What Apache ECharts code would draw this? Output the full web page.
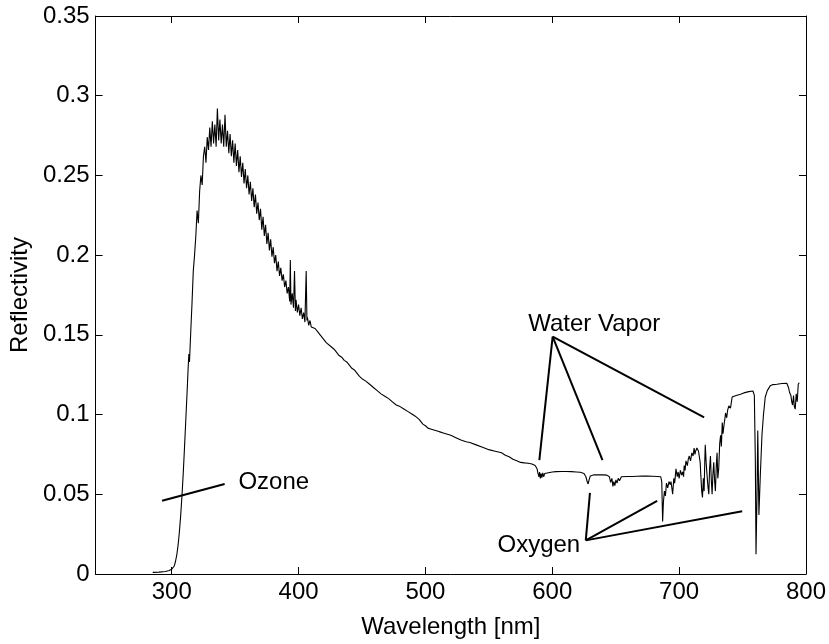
<!DOCTYPE html>
<html><head><meta charset="utf-8">
<script src="https://cdn.jsdelivr.net/npm/echarts@6/dist/echarts.min.js"></script>
<style>html,body{margin:0;padding:0;background:#fff}#c{width:829px;height:644px}</style>
</head><body><div id="c"></div>
<script>
// ---- data (wavelength nm, reflectivity) ----
const xTickValues = [300, 400, 500, 600, 700, 800];
const ozoneEdge = [[285,0.001],[290,0.0012],[295,0.0016],[298,0.0022],[300,0.003],[302,0.005],[303,0.008],[304,0.012],[305,0.018],[306,0.026],[307,0.036],[308,0.048],[309,0.062],[310,0.078],[311,0.095],[312,0.112],[313,0.13],[313.5,0.138],[314,0.133],[315,0.152],[316,0.17],[317,0.19],[318,0.2],[319,0.212],[320,0.228],[321,0.22],[322,0.24]];
const uvPeak = [[323,0.25],[324,0.244],[325,0.262],[326,0.268],[327,0.258],[328,0.274],[329,0.266],[330,0.28],[331,0.268],[332,0.284],[333,0.27],[334,0.282],[335,0.268],[336,0.292],[337,0.272],[338,0.285],[339,0.27],[340,0.282],[341,0.268],[342,0.288],[343,0.268],[344,0.278],[345,0.264],[346,0.276],[347,0.262],[348,0.272],[349,0.258],[350,0.27],[351,0.256],[352,0.266],[353,0.252],[354,0.262],[355,0.249],[356,0.258],[357,0.245],[358,0.254],[359,0.242],[360,0.25],[361,0.238],[362,0.246],[363,0.234],[364,0.242],[365,0.23],[366,0.238],[367,0.226],[368,0.233],[369,0.222],[370,0.229],[371,0.216],[372,0.224],[373,0.212],[374,0.219],[375,0.207],[376,0.214],[377,0.203],[378,0.21],[379,0.199],[380,0.205],[381,0.195],[382,0.2],[383,0.19],[384,0.196],[385,0.187],[386,0.192],[387,0.184],[388,0.188],[389,0.18],[390,0.184],[391,0.176],[392,0.18],[393,0.171],[393.5,0.197],[394,0.169],[395,0.176],[396,0.167],[396.8,0.19],[397.5,0.165],[398,0.172],[399,0.164],[400,0.169],[401,0.162],[402,0.167],[403,0.16],[404,0.164],[405,0.158],[406,0.19],[406.6,0.159],[407,0.161],[408,0.156],[409,0.159],[410,0.155]];
const visible = [[411,0.156],[413,0.154],[415,0.152],[417,0.15],[419,0.148],[420,0.147],[422,0.145],[423,0.146],[425,0.143],[428,0.141],[430,0.139],[431,0.1395],[432,0.137],[434,0.136],[436,0.134],[438,0.133],[440,0.131],[442,0.129],[444,0.128],[446,0.126],[448,0.124],[450,0.1225],[453,0.121],[456,0.119],[459,0.117],[462,0.115],[465,0.113],[468,0.1115],[471,0.11],[474,0.108],[477,0.106],[480,0.105],[483,0.1035],[486,0.102],[489,0.1005],[492,0.099],[495,0.097],[498,0.094],[500,0.093],[502,0.0915],[504,0.091],[506,0.0905],[508,0.09],[510,0.0895],[512,0.089],[514,0.0885],[516,0.088],[517,0.0888],[518,0.0875],[520,0.087],[524,0.0855],[528,0.084],[532,0.083],[535,0.0825],[540,0.081],[545,0.0795],[550,0.078],[555,0.077],[560,0.076],[563,0.0745],[566,0.0735],[569,0.072],[572,0.071],[575,0.07],[578,0.0697],[581,0.0695],[584,0.069],[586.5,0.068],[588,0.066],[588.8,0.063],[589.5,0.061],[590,0.064],[590.6,0.06],[591.2,0.063],[591.8,0.0605],[592.5,0.0635],[593.2,0.061],[594,0.063],[595,0.0625],[597,0.0635],[600,0.064]];
const redBand = [[603,0.0642],[607,0.0643],[611,0.0643],[615,0.0642],[619,0.064],[622,0.0638],[625,0.063],[626.5,0.061],[627.5,0.058],[628.3,0.0565],[629,0.059],[630,0.0615],[631,0.062],[633,0.0622],[636,0.0623],[640,0.0622],[643,0.062],[645,0.061],[646,0.0575],[647,0.06],[647.8,0.055],[648.5,0.058],[649.3,0.0555],[650.2,0.059],[651,0.057],[652,0.06],[653,0.0585],[654.5,0.061],[656,0.0605],[659,0.0612],[663,0.0612],[667,0.0613],[671,0.0614],[675,0.0614],[679,0.0613],[683,0.0612],[685.5,0.061],[686.3,0.058],[687,0.033],[687.6,0.045],[688.4,0.052],[689.2,0.049],[690,0.057],[691,0.054],[692,0.058],[693,0.056],[693.6,0.058],[694.9,0.05],[695.8,0.06],[696.5,0.057],[697.5,0.066],[698.5,0.061],[699.2,0.064],[700,0.06]];
const nearIR = [[701,0.065],[702,0.062],[702.8,0.064],[703.5,0.061],[704,0.068],[704.7,0.065],[705.4,0.071],[706.5,0.068],[707.2,0.072],[708,0.074],[709,0.071],[710,0.076],[711,0.074],[711.8,0.079],[712.5,0.075],[713,0.077],[714,0.079],[714.5,0.08],[715.3,0.077],[716,0.078],[716.6,0.07],[717.1,0.062],[717.8,0.052],[718.4,0.048],[719.1,0.06],[719.7,0.052],[720.2,0.07],[720.6,0.081],[721.3,0.07],[722,0.062],[722.7,0.055],[723.4,0.05],[724,0.066],[724.7,0.074],[725.3,0.06],[726,0.05],[726.6,0.062],[727.3,0.07],[728,0.058],[728.6,0.052],[729.3,0.068],[729.9,0.076],[730.5,0.06],[731.2,0.066],[732,0.082],[732.7,0.087],[733.3,0.08],[734,0.095],[734.6,0.088],[735.3,0.093],[736,0.097],[736.6,0.101],[737.5,0.098],[738.3,0.103],[739.2,0.1055],[740.5,0.104],[741.8,0.111],[743,0.1105],[745,0.112],[748.4,0.1128],[751,0.1136],[754.9,0.1144],[758.2,0.1148],[759.3,0.112],[760.1,0.07],[760.6,0.0124],[761.4,0.05],[762,0.09],[762.9,0.037],[764,0.062],[765.3,0.087],[766.5,0.1],[767.9,0.111],[769.5,0.115],[771.8,0.118],[774,0.1188],[777.1,0.119],[781,0.1195],[784.9,0.1196],[786.2,0.117],[787,0.114],[788.1,0.112],[788.8,0.108],[789.4,0.106],[790.2,0.112],[790.8,0.105],[791.5,0.1034],[792.3,0.113],[793.1,0.108],[793.9,0.119],[794.4,0.118],[794.7,0.12]];
// annotation leader lines (data coordinates)
const ozoneLine = [[292.4,0.0459],[341.7,0.0565]];
const waterLines = [[[600.3,0.1489],[589.8,0.0714]],[[600.3,0.1489],[639.6,0.0714]],[[600.3,0.1489],[719.7,0.0982]]];
const oxygenLines = [[[626.4,0.0211],[629.7,0.0509]],[[626.4,0.0211],[682.7,0.0459]],[[626.4,0.0211],[749.7,0.0393]]];
const labels = [{text:'Ozone',at:[352.6,0.0577]},{text:'Water Vapor',at:[581,0.1564]},{text:'Oxygen',at:[556.8,0.018]}];

const spectrum = [].concat(ozoneEdge, uvPeak, visible, redBand, nearIR);
const FONT = 'Liberation Sans, Arial, Helvetica, sans-serif';
const chart = echarts.init(document.getElementById('c'), null, {renderer:'canvas'});

function xAx(pos, show){
  return {type:'value', position:pos, min:240, max:800,
    axisLine:{show:true,onZero:false,lineStyle:{color:'#000',width:1}},
    axisTick:{show:true,inside:true,length:7,customValues:xTickValues,lineStyle:{color:'#000'}},
    axisLabel:{show:show,customValues:xTickValues,color:'#000',fontSize:24,fontFamily:FONT,margin:6},
    splitLine:{show:false},
    name: show?'Wavelength [nm]':'', nameLocation:'middle', nameGap:41,
    nameTextStyle:{color:'#000',fontSize:24,fontFamily:FONT}};
}
function yAx(pos, show){
  return {type:'value', position:pos, min:0, max:0.35, interval:0.05,
    axisLine:{show:true,onZero:false,lineStyle:{color:'#000',width:1}},
    axisTick:{show:true,inside:true,length:7,lineStyle:{color:'#000'}},
    axisLabel:{show:show,color:'#000',fontSize:24,fontFamily:FONT,margin:6,
      formatter:v=>String(+v.toFixed(2))},
    splitLine:{show:false},
    name: show?'Reflectivity':'', nameLocation:'middle', nameGap:56, nameRotate:90,
    nameTextStyle:{color:'#000',fontSize:24,fontFamily:FONT}};
}
const annoStyle = {color:'#000',width:2};
const series = [{type:'line',data:spectrum,showSymbol:false,symbol:'none',lineStyle:{color:'#000',width:1.1},animation:false}];
[ozoneLine].concat(waterLines, oxygenLines).forEach(seg=>{
  series.push({type:'line',data:seg,symbol:'none',lineStyle:annoStyle,animation:false,silent:true});
});
chart.setOption({
  animation:false,
  backgroundColor:'#fff',
  grid:{left:90,right:23,top:16,bottom:64,containLabel:false},
  xAxis:[xAx('bottom',true), xAx('top',false)],
  yAxis:[yAx('left',true), yAx('right',false)],
  series: series
});
const g = labels.map(l=>{
  const p = chart.convertToPixel({xAxisIndex:0,yAxisIndex:0}, l.at);
  return {type:'text', x:p[0], y:p[1], style:{text:l.text, fill:'#000', font:'24px '+FONT, textVerticalAlign:'middle', textAlign:'left'}};
});
chart.setOption({graphic:g});
</script></body></html>
